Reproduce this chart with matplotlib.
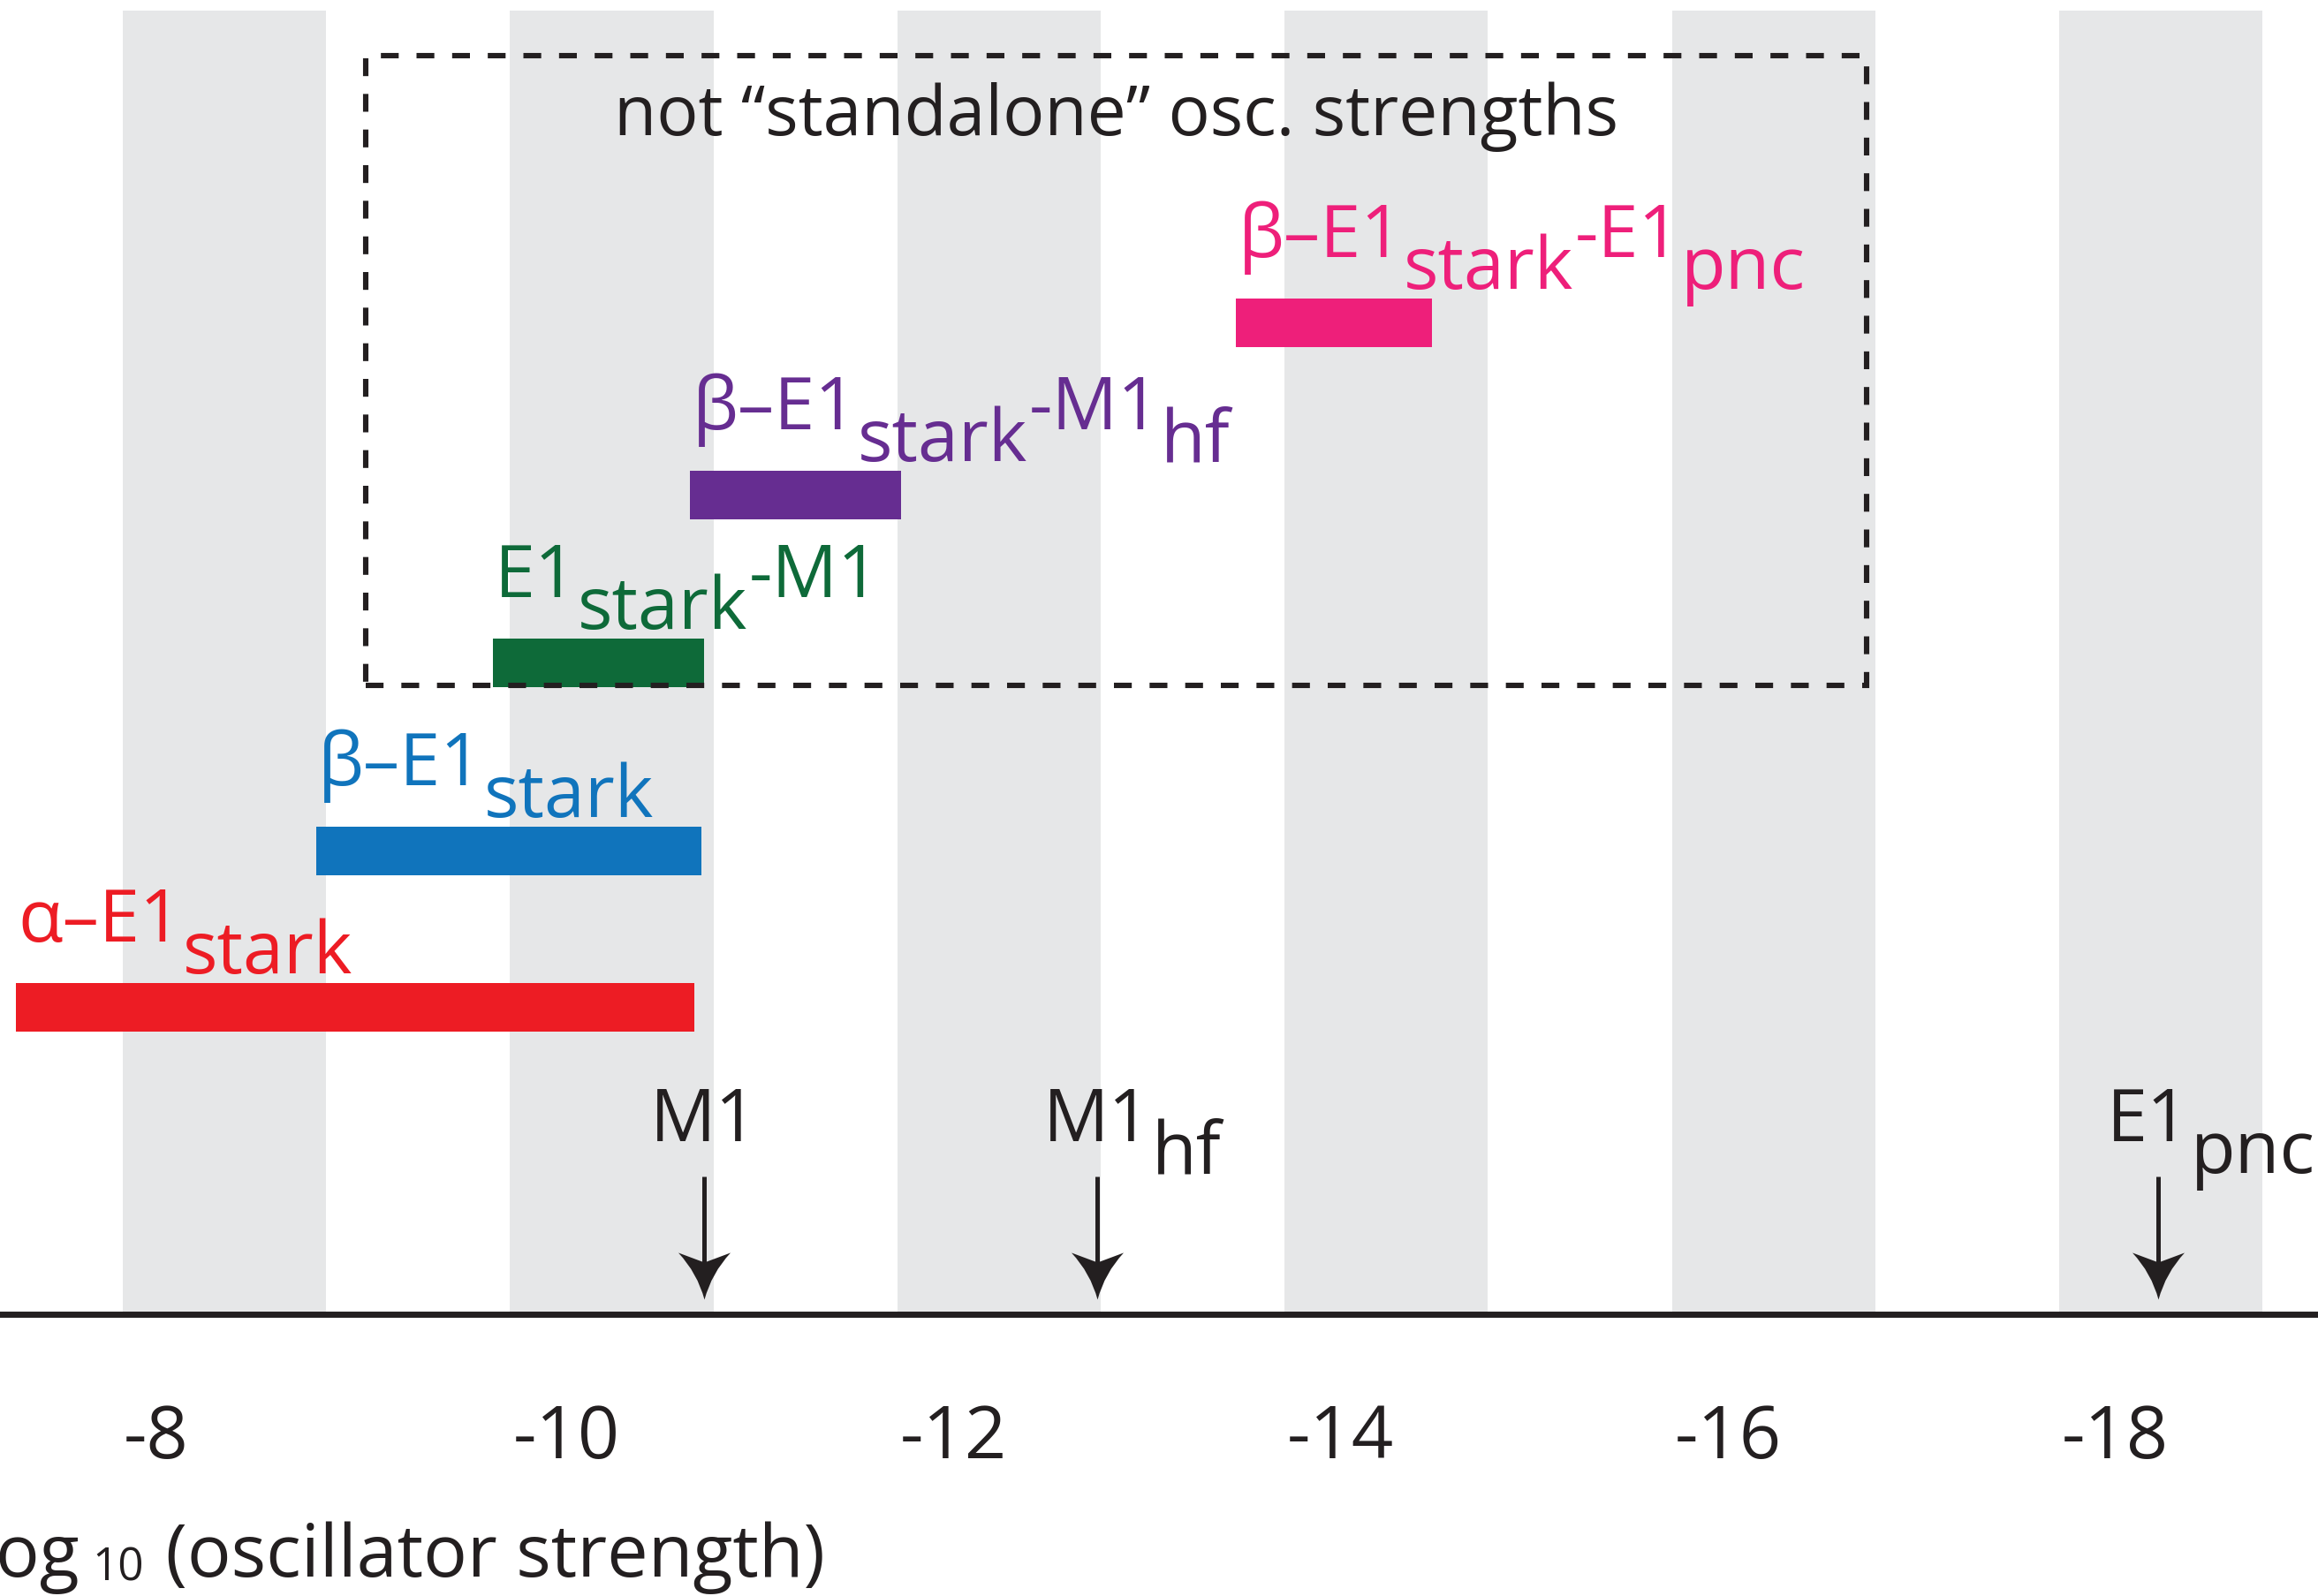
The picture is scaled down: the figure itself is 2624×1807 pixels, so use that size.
import numpy as np
import matplotlib
matplotlib.use("Agg")
import matplotlib.pyplot as plt
import matplotlib.transforms as mtransforms
from matplotlib.patches import Rectangle
from matplotlib.path import Path

plt.rcParams['font.family'] = ['Open Sans', 'DejaVu Sans']

# ── data: log10(oscillator strength) ranges for each method ───────────
bar_labels = [
    [("α–E1", 0), ("stark", 1)],
    [("β–E1", 0), ("stark", 1)],
    [("E1", 0), ("stark", 1), ("-M1", 0)],
    [("β–E1", 0), ("stark", 1), ("-M1", 0), ("hf", 1)],
    [("β–E1", 0), ("stark", 1), ("-E1", 0), ("pnc", 1)],
]
bar_lo = [-7.16, -8.71, -9.62, -10.64, -13.46]
bar_hi = [-10.66, -10.70, -10.71, -11.73, -14.47]
bar_level = [3.47, 5.24, 7.37, 9.27, 11.22]
bar_colors = ['#ED1C24', '#1074BC', '#0E6A39', '#662D91', '#EE1F7A']

# transitions marked on the axis
ref_labels = [[("M1", 0)], [("M1", 0), ("hf", 1)], [("E1", 0), ("pnc", 1)]]
ref_x = [-10.71, -12.74, -18.22]
ref_label_shift = [0.0, 0.0, 0.05]

tick_vals = [-8, -10, -12, -14, -16, -18]
tick_text = ["-8", "-10", "-12", "-14", "-16", "-18"]

INK = '#231F20'
BAND = '#E6E7E8'
FS = 29.8
SUB = 36  # subscript drop in pixels


def draw_parts(ax, x, y, parts, color, size, transform=None, center_first=False, gap=1):
    """Place text pieces side by side, dropping subscripts below the baseline."""
    renderer = ax.figure.canvas.get_renderer()
    base = transform if transform is not None else ax.transData
    dx = 0.0
    for i, (s, sub) in enumerate(parts):
        t = ax.text(x, y, s, color=color, fontsize=size, ha='left', va='baseline',
                    transform=mtransforms.offset_copy(base, x=dx, y=-SUB * sub, units='dots'))
        w = t.get_window_extent(renderer).width
        if i == 0 and center_first:
            dx = -w / 2
            t.set_transform(mtransforms.offset_copy(base, x=dx, y=0, units='dots'))
        dx += w + gap


fig = plt.figure(figsize=(13.12, 9.04), dpi=200)
ax = fig.add_axes([0, 0.17671, 1, 0.82329])
ax.set_xlim(-7.076, -19.047)   # axis runs toward weaker strengths
ax.set_ylim(0, 14.885)

# grey guide bands
for k in range(6):
    ax.axvspan(-7.71 - 2 * k, -8.76 - 2 * k, ymin=0, ymax=14.755 / 14.885,
               color=BAND, lw=0, zorder=0)

# method ranges
bar_h = 0.55
for parts, lo, hi, lev, c in zip(bar_labels, bar_lo, bar_hi, bar_level, bar_colors):
    ax.barh(lev, hi - lo, left=lo, height=bar_h, color=c, lw=0, zorder=2)
    draw_parts(ax, lo - 0.01, lev + bar_h / 2 + 0.48, parts, c, FS)

# dashed box around the non-standalone methods
box = Rectangle((-8.964, 7.118), -16.714 + 8.964, 14.245 - 7.118, fill=False,
                ec=INK, lw=2.2, ls=(0, (3.3, 3.3)), zorder=3)
ax.add_patch(box)
ax.text((-8.964 - 16.714) / 2, 13.355, "not “standalone” osc. strengths",
        ha='center', va='baseline', fontsize=FS * 0.95, color=INK)

# arrows pointing at the transitions
head = Path([(0, 0), (-8, 30), (-29.5, 53), (0, 42), (29.5, 53), (8, 30), (0, 0)],
            [Path.MOVETO, Path.CURVE3, Path.CURVE3, Path.LINETO, Path.LINETO,
             Path.CURVE3, Path.CURVE3])
for parts, x, sh in zip(ref_labels, ref_x, ref_label_shift):
    ax.vlines(x, 0.5, 1.56, color=INK, lw=1.8, zorder=3)
    ax.plot(x, 0.165, marker=head, ms=38.2, color=INK, mew=0, zorder=3)
    draw_parts(ax, x + sh, 1.965, parts, INK, FS, center_first=True)

# axis
for side in ['top', 'left', 'right']:
    ax.spines[side].set_visible(False)
ax.spines['bottom'].set_linewidth(2.5)
ax.spines['bottom'].set_color(INK)
ax.set_yticks([])
ax.set_xticks(tick_vals)
ax.set_xticklabels(tick_text)
ax.tick_params(axis='x', length=0, pad=36, labelsize=FS, labelcolor=INK)
ax.patch.set_visible(False)
# the first label sits a little left of its tick
lab0 = ax.get_xticklabels()[0]
lab0.set_transform(lab0.get_transform()
                   + mtransforms.ScaledTranslation(-26 / 200, 0, fig.dpi_scale_trans))

# axis title, with "10" set small as a subscript
renderer = fig.canvas.get_renderer()
xs = -0.0095
t = ax.text(xs, -0.1992, "log", transform=ax.transAxes, fontsize=FS, color=INK,
            ha='left', va='baseline')
w1 = t.get_window_extent(renderer).width
t2 = ax.text(xs, -0.1992, "10", fontsize=FS * 0.62, color=INK, ha='left', va='baseline',
             transform=mtransforms.offset_copy(ax.transAxes, x=w1 + 14, y=-4, units='dots'))
w2 = t2.get_window_extent(renderer).width
ax.text(xs, -0.1992, " (oscillator strength)", fontsize=FS, color=INK, ha='left',
        va='baseline',
        transform=mtransforms.offset_copy(ax.transAxes, x=w1 + w2 + 17, y=0, units='dots'))

fig.savefig("out.png", dpi=200)
